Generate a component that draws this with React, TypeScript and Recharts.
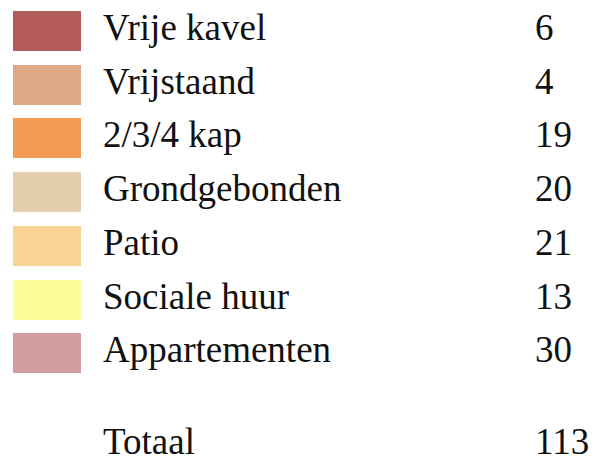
import { PieChart, Pie, Cell, Legend } from "recharts";

const categories = ["Vrije kavel", "Vrijstaand", "2/3/4 kap", "Grondgebonden", "Patio", "Sociale huur", "Appartementen"];
const counts = [6, 4, 19, 20, 21, 13, 30];
const colors = ["#B45B5B", "#DEA985", "#F39A54", "#E4CEAE", "#F9D497", "#FDFC9B", "#D49D9D"];
const totalLabel = "Totaal";
const totalValue = 113;

const data = categories.map((name, i) => ({ name, value: counts[i] }));

const font = "'Liberation Serif', 'Times New Roman', serif";

const renderLegend = () => {
  const rowTop = (i: number) => 11 + i * 53.7;
  const text = { position: "absolute" as const, fontFamily: font, fontSize: 37, lineHeight: "40px", color: "#111", whiteSpace: "nowrap" as const };
  return (
    <div style={{ position: "relative", width: 596, height: 461 }}>
      {data.map((d, i) => (
        <div key={d.name}>
          <div style={{ position: "absolute", left: 13, top: rowTop(i), width: 68, height: 40, background: colors[i] }} />
          <div style={{ ...text, left: 103, top: rowTop(i) - 3 }}>{d.name}</div>
          <div style={{ ...text, left: 535, top: rowTop(i) - 3 }}>{d.value}</div>
        </div>
      ))}
      <div style={{ ...text, left: 103, top: 422 }}>{totalLabel}</div>
      <div style={{ ...text, left: 535, top: 422 }}>{totalValue}</div>
    </div>
  );
};

export default function App() {
  return (
    <div style={{ position: "absolute", left: 0, top: 0, background: "#fff" }}>
      <PieChart width={596} height={461} margin={{ top: 0, right: 0, bottom: 0, left: 0 }}>
        <Pie data={data} dataKey='value' nameKey='name' cx={-100} cy={-100} outerRadius={0} isAnimationActive={false} stroke='none'>
          {data.map((d, i) => (
            <Cell key={d.name} fill={colors[i]} />
          ))}
        </Pie>
        <Legend
          layout='vertical'
          verticalAlign='top'
          align='left'
          content={renderLegend}
          wrapperStyle={{ top: 0, left: 0, width: 596, height: 461 }}
        />
      </PieChart>
    </div>
  );
}
